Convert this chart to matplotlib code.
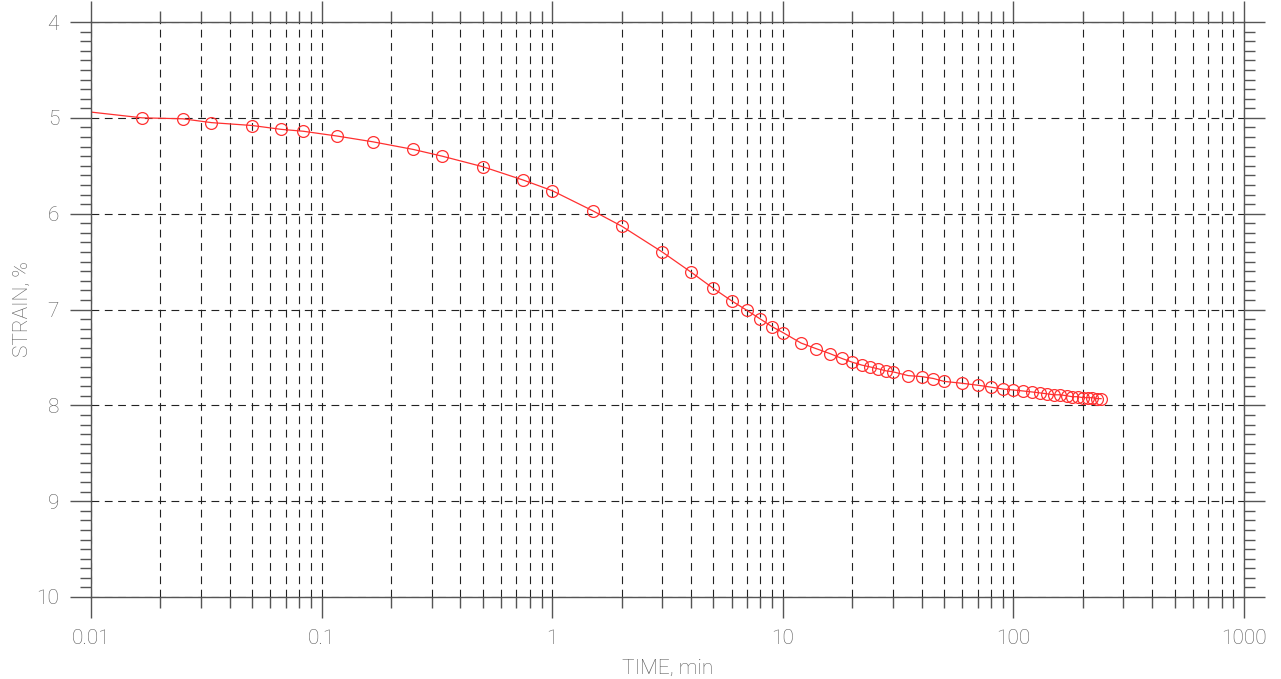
import matplotlib
matplotlib.use("Agg")
import matplotlib.pyplot as plt
from matplotlib.ticker import LogLocator, FixedLocator, MultipleLocator, FuncFormatter

# consolidation readings: elapsed time (min) vs strain (%)
time_min = [0.01667, 0.025, 0.0333, 0.05, 0.0667, 0.0833, 0.1167, 0.1667, 0.25, 0.3333,
            0.5, 0.75, 1, 1.5, 2, 3, 4, 5, 6, 7, 8, 9, 10,
            12, 14, 16, 18, 20, 22, 24, 26, 28, 30,
            35, 40, 45, 50, 60, 70, 80, 90, 100,
            110, 120, 130, 140, 150, 160, 170, 180, 190, 200, 210, 220, 230, 240]
strain = [5.00, 5.01, 5.05, 5.08, 5.12, 5.14, 5.19, 5.25, 5.33, 5.40,
          5.51, 5.65, 5.76, 5.97, 6.13, 6.40, 6.61, 6.78, 6.91, 7.01, 7.10, 7.18, 7.24,
          7.35, 7.41, 7.46, 7.51, 7.55, 7.58, 7.60, 7.62, 7.64, 7.65,
          7.69, 7.70, 7.72, 7.75, 7.77, 7.79, 7.81, 7.83, 7.84,
          7.85, 7.86, 7.87, 7.88, 7.89, 7.89, 7.90, 7.91, 7.91, 7.92, 7.92, 7.92, 7.93, 7.93]

# fitted curve starts at the left edge of the plot
curve_start_t = 0.01
curve_start_strain = 4.94

x_ticks = [0.01, 0.1, 1, 10, 100, 1000]
x_labels = ["0.01", "0.1", "1", "10", "100", "1000"]
y_ticks = [4, 5, 6, 7, 8, 9, 10]

txt = "#5a5a5a"
spine_col = "#555555"
red = "#ff3030"

plt.rcParams["font.family"] = ["Roboto", "DejaVu Sans"]

fig = plt.figure(figsize=(12.81, 6.79), dpi=100)
ax = fig.add_axes([91 / 1281, 1 - 597 / 679, (1244 - 91) / 1281, (597 - 22) / 679])

ax.set_xscale("log")
ax.set_xlim(0.01, 1000)
ax.set_ylim(10, 4)

ax.xaxis.set_major_locator(FixedLocator(x_ticks))
ax.xaxis.set_minor_locator(LogLocator(base=10, subs=range(2, 10)))
ax.xaxis.set_major_formatter(FuncFormatter(lambda v, p: x_labels[x_ticks.index(v)] if v in x_ticks else ""))
ax.yaxis.set_major_locator(FixedLocator(y_ticks))
ax.yaxis.set_minor_locator(MultipleLocator(0.1))

ax.grid(True, which="major", axis="y", color="#222222", linestyle=(0, (7, 5)), linewidth=0.8)
ax.grid(True, which="both", axis="x", color="#222222", linestyle=(0, (7, 5)), linewidth=0.8)

for s in ax.spines.values():
    s.set_color(spine_col)
    s.set_linewidth(1.0)

ax.tick_params(which="both", direction="out", color=spine_col, width=1.0,
               top=True, right=True, labelcolor=txt, labelsize=15)
ax.tick_params(which="major", length=15, pad=8)
ax.tick_params(which="minor", length=8)
for lab in ax.get_xticklabels() + ax.get_yticklabels():
    lab.set_fontweight("light")

ax.plot([curve_start_t] + time_min, [curve_start_strain] + strain, color=red, linewidth=0.9,
        marker="o", markersize=8.5, markerfacecolor="none", markeredgecolor=red,
        markeredgewidth=0.9, markevery=list(range(1, len(time_min) + 1)))

ax.set_xlabel("TIME, min", fontsize=15, color=txt, fontweight="light", labelpad=8)
ax.set_ylabel("STRAIN, %", fontsize=15, color=txt, fontweight="light", labelpad=3)

fig.savefig("out.png", dpi=100)
